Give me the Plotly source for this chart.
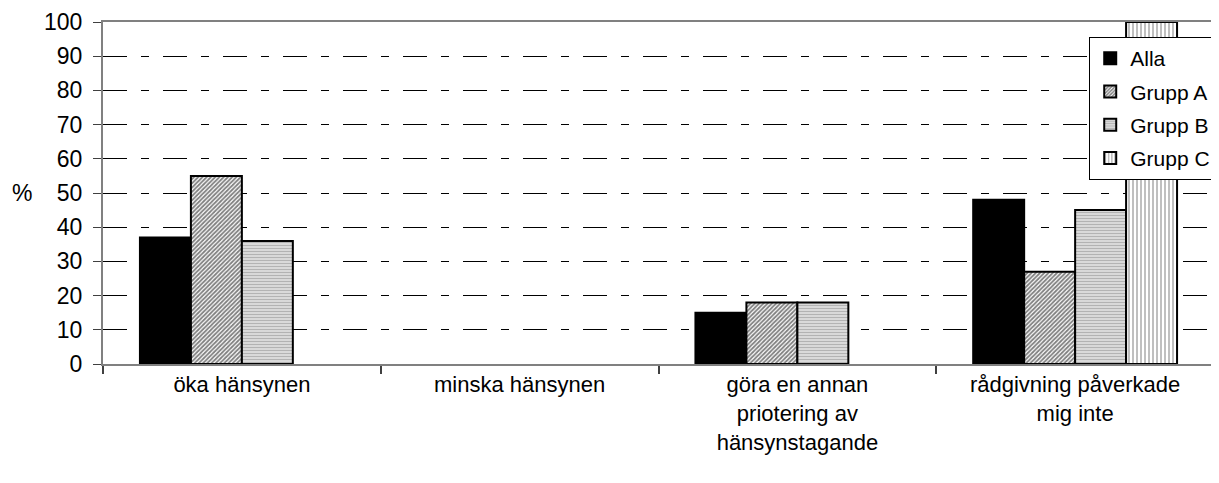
import plotly.graph_objects as go

categories = ["öka hänsynen", "minska hänsynen",
              "göra en annan<br>priotering av<br>hänsynstagande",
              "rådgivning påverkade<br>mig inte"]
series_names = ["Alla", "Grupp A", "Grupp B", "Grupp C"]
alla = [37, None, 15, 48]
grupp_a = [55, None, 18, 27]
grupp_b = [36, None, 18, 45]
grupp_c = [None, None, None, 100]
y_ticks = [0, 10, 20, 30, 40, 50, 60, 70, 80, 90, 100]

values = [alla, grupp_a, grupp_b, grupp_c]
patterns = [
    dict(shape="", fgcolor="black", bgcolor="black"),
    dict(shape="/", fgcolor="black", bgcolor="white", size=3, solidity=0.6),
    dict(shape="-", fgcolor="#7f7f7f", bgcolor="#e6e6e6", size=3, solidity=0.5),
    dict(shape="|", fgcolor="#7f7f7f", bgcolor="white", size=4, solidity=0.5),
]
fills = ["black", "white", "#e6e6e6", "white"]

fig = go.Figure()
for name, vals, pat, fc in zip(series_names, values, patterns, fills):
    fig.add_trace(go.Bar(
        x=categories, y=vals, name=name, legendgroup=name,
        marker=dict(color=fc, pattern=pat, line=dict(color="black", width=2)),
    ))

font = "Liberation Sans, Arial, sans-serif"
# the page body has an 8px margin, so the figure is sized and placed to compensate
fig.update_layout(
    width=1211, height=475,
    margin=dict(l=95, r=3, t=14, b=119),
    paper_bgcolor="white", plot_bgcolor="white",
    barmode="group", bargap=0.266, bargroupgap=0,
    font=dict(family=font, size=22, color="black"),
    showlegend=True,
    legend=dict(x=1.002, y=0.956, xanchor="right", yanchor="top",
                bgcolor="white", bordercolor="black", borderwidth=1,
                font=dict(size=21), tracegroupgap=3),
    xaxis=dict(type="category", showline=True, linecolor="#808080", linewidth=2,
               mirror=True, ticks="outside", tickson="boundaries", ticklen=8,
               tickcolor="#404040", tickwidth=2, showgrid=False,
               tickfont=dict(size=22), automargin=False),
    yaxis=dict(range=[0, 100], tickvals=y_ticks, showline=True, linecolor="#808080",
               linewidth=2, mirror=True, ticks="outside", ticklen=8,
               tickcolor="#404040", tickwidth=1, showgrid=True, gridcolor="black",
               gridwidth=1, griddash="24px,14px,8px,14px", zeroline=False,
               tickfont=dict(size=23), ticklabelstandoff=6, automargin=False),
    annotations=[dict(text="%", x=-0.0728, xref="paper", xanchor="center",
                      y=0.5, yref="paper", showarrow=False, font=dict(size=23))],
)
fig.write_html("out.html")
